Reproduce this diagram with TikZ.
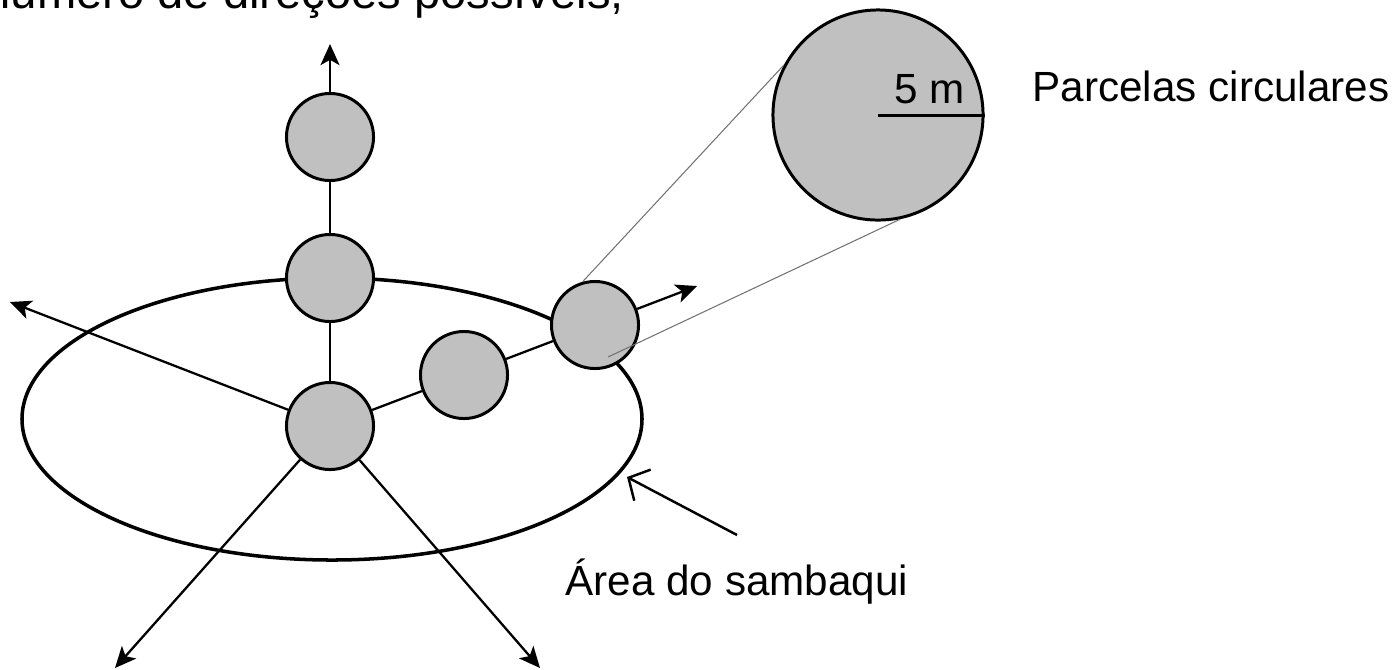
\documentclass[tikz,border=0pt]{standalone}
\usepackage{fontspec}
\setmainfont{Liberation Sans}
\usetikzlibrary{arrows.meta}
\definecolor{plotgray}{RGB}{192,192,192}
\begin{document}
\begin{tikzpicture}[x=0.01cm,y=-0.01cm,
  plot/.style={circle,draw,line width=0.85pt,fill=plotgray,minimum size=0.87cm,inner sep=0pt},
  conn/.style={line width=0.65pt},
  tipped/.style={conn,-{Stealth[length=6pt,width=5.4pt,inset=1.5pt]}},
  zoomline/.style={line width=0.3pt,draw=black!55},
  lbl/.style={font=\fontsize{12}{14}\selectfont,inner sep=0pt}]
\clip (0,0) rectangle (1395,669);
% cut-off heading
\node[lbl,font=\fontsize{13.4}{16}\selectfont,anchor=base west] (title) at (-16,8) {número de direções possíveis;};
% sambaqui area
\draw[line width=1pt] (332,419) ellipse [x radius=310, y radius=141];
% plots
\node[plot] (c1) at (330,137) {};
\node[plot] (c2) at (330,278) {};
\node[plot] (c3) at (330,426) {};
\node[plot] (c4) at (464,375) {};
\node[plot] (c5) at (595,325) {};
\node[plot,minimum size=2.1cm] (big) at (878,115) {};
% free ends
\coordinate (up) at (330,44);
\coordinate (left) at (10,302);
\coordinate (dl) at (115,668);
\coordinate (dr) at (540,668);
\coordinate (right) at (697,286);
\coordinate (zin) at (608,357);
\coordinate (astart) at (737,535);
\coordinate (ellpt) at (627,477);
% connectors
\draw[conn] (c3) -- (c2);
\draw[conn] (c2) -- (c1);
\draw[tipped] (c1) -- (up);
\draw[conn] (c3) -- (c4);
\draw[conn] (c4) -- (c5);
\draw[tipped] (c5) -- (right);
\draw[tipped] (c3) -- (left);
\draw[tipped] (c3) -- (dl);
\draw[tipped] (c3) -- (dr);
% zoom lines
\draw[zoomline] (c5.106) -- (big.152);
\draw[zoomline] (zin) -- (big.-78);
% radius
\draw[line width=0.85pt] (big.center) -- (big.east);
\node[lbl,anchor=base west] (fivem) at (894,103) {5 m};
% labels
\node[lbl,anchor=base west] (parc) at (1032,101) {Parcelas circulares};
\node[lbl,anchor=base west] (area) at (565,595) {Área do sambaqui};
\draw[line width=0.7pt,-{Straight Barb[length=4.5pt,width=10pt]}] (astart) -- (ellpt);
\end{tikzpicture}
\end{document}
